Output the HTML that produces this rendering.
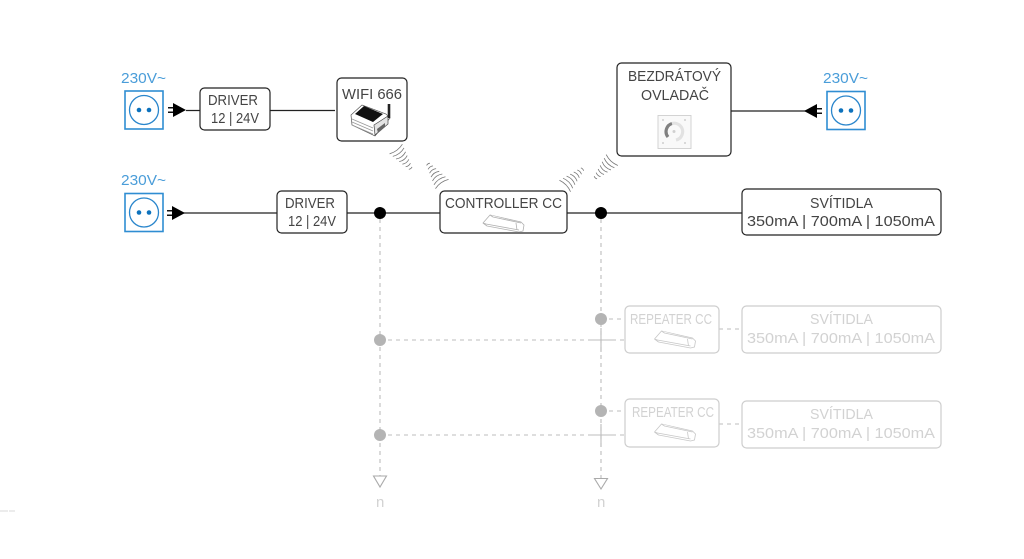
<!DOCTYPE html>
<html><head><meta charset="utf-8"><style>
html,body{margin:0;padding:0;background:#fff}
svg{display:block}
text{font-family:"Liberation Sans",sans-serif;font-size:15px}
.t text{fill:#444}
.b text{fill:#4a9dd9}
.g text{fill:#d2d2d2}
</style></head><body>
<svg width="1024" height="559" viewBox="0 0 1024 559" xmlns="http://www.w3.org/2000/svg">
<defs>
<g id="sock">
<rect x="-19" y="-19" width="38" height="38" fill="#fff" stroke="#2f8dd2" stroke-width="1.6"/>
<circle r="14.5" fill="none" stroke="#2a86cc" stroke-width="1.3"/>
<circle cx="-5" r="2.3" fill="#0d72bd"/><circle cx="5" r="2.3" fill="#0d72bd"/>
</g>
<g id="plug">
<path d="M0,-2.200H7M0,2.200H7" stroke="#111" stroke-width="1.500"/>
<path d="M5,-7L18,0L5,7Z" fill="#000"/>
</g>
<g id="arcs" fill="none" stroke="#777" stroke-width="0.8">
<path d="M0,-8Q3,0 0,8"/><path d="M4,-7Q7,0 4,7"/><path d="M8,-6Q11,0 8,6"/><path d="M12,-5Q14.5,0 12,5"/><path d="M16,-4Q18,0 16,4"/><path d="M20,-3Q21.5,0 20,3"/><path d="M24,-2Q25,0 24,2"/>
</g>
<g id="drv" fill="#fff" stroke="#b0b0b0" stroke-width="0.8" stroke-linejoin="round">
<path d="M0,8L7,0L38,7L41,10L40,16L36,17L4,11Z"/><path d="M0,8L3,9L36,15M7,0L10,2L38,8M33,8L34,15"/>
</g>
</defs>

<!-- grey dashed -->
<g fill="none" stroke="#bdbdbd" stroke-width="1.1" stroke-dasharray="4 4">
<path d="M380,219V476"/>
<path d="M601,219V478"/>
<path d="M380,340H590"/><path d="M380,435H590"/>
<path d="M601,319H625"/><path d="M601,411H625"/>
<path d="M612,340H625"/><path d="M612,435H625"/>
<path d="M719,329H742"/><path d="M719,424H742"/>
</g>
<path d="M589,340H612M601,328V352M588,435H612M601,424V447" stroke="#bdbdbd" stroke-width="1.1" fill="none"/>
<g fill="#b4b4b4"><circle cx="380" cy="340" r="6"/><circle cx="380" cy="435" r="6"/><circle cx="601" cy="319" r="6"/><circle cx="601" cy="411" r="6"/></g>
<path d="M373.500,476H386.500L380,487ZM594.500,478.500H607.500L601,489Z" fill="#fff" stroke="#aaa" stroke-width="1.1"/>

<!-- black lines -->
<g stroke="#222" stroke-width="1.300" fill="none">
<path d="M186,110.500H200M270,110.500H335"/>
<path d="M180,213H277M347,213H440M567,213H742"/>
<path d="M731,111H806"/>
</g>
<circle cx="380" cy="213" r="6" fill="#000"/><circle cx="601" cy="213" r="6" fill="#000"/>

<use href="#sock" x="144" y="110"/><use href="#sock" x="144" y="212.500"/><use href="#sock" x="846" y="110.500"/>
<use href="#plug" x="168" y="110"/><use href="#plug" x="167" y="213"/>
<use href="#plug" transform="translate(822,111) scale(-1,1)"/>

<!-- boxes -->
<g fill="#fff" stroke="#222" stroke-width="1.200">
<rect x="200" y="88" width="70" height="42" rx="4.500"/>
<rect x="337" y="78" width="70" height="63" rx="4.500"/>
<rect x="277" y="191" width="70" height="42" rx="4.500"/>
<rect x="440" y="191" width="127" height="42" rx="4.500"/>
<rect x="617" y="63" width="114" height="93" rx="4.500"/>
<rect x="742" y="189" width="199" height="46" rx="4.500"/>
</g>
<g fill="#fff" stroke="#cdcdcd" stroke-width="1.200">
<rect x="625" y="306" width="94" height="47" rx="4.500"/>
<rect x="742" y="306" width="199" height="47" rx="4.500"/>
<rect x="625" y="399" width="94" height="48" rx="4.500"/>
<rect x="742" y="401" width="199" height="47" rx="4.500"/>
</g>

<!-- wifi arcs -->
<use href="#arcs" transform="translate(396,149) rotate(53)"/>
<use href="#arcs" transform="translate(442,184) rotate(-125)"/>
<use href="#arcs" transform="translate(565,186) rotate(-44)"/>
<use href="#arcs" transform="translate(612,160) rotate(133)"/>

<!-- wifi device -->
<g>
<path d="M351,115L362,105L386,114L390,118L375,136L352,125Z" fill="#fff" stroke="#555" stroke-width="0.7"/>
<path d="M355,114L364,106L383,114L373,122Z" fill="#111"/>
<path d="M352,119L373,128M352,122L373,131M352,125L373,134" stroke="#999" stroke-width="0.8"/>
<path d="M374,125L388,116V124L375,135Z" fill="#e4e4e4" stroke="#444" stroke-width="0.7"/>
<path d="M377,129L385,123V127L378,133Z" fill="#666"/>
<path d="M389,104V118" stroke="#222" stroke-width="2.600"/>
</g>

<!-- dial -->
<rect x="658" y="115.500" width="33" height="33" fill="#f9f9f9" stroke="#cfcfcf" stroke-width="0.900"/>
<path d="M668,137A8.500,8.500 0 0 1 672,123.500" fill="none" stroke="#808080" stroke-width="3.200"/>
<path d="M672,123.500A8.500,8.500 0 0 1 682,135A8.500,8.500 0 0 1 676,140" fill="none" stroke="#e2e2e2" stroke-width="3.200"/>
<circle cx="674" cy="131.500" r="1.500" fill="#d0d0d0"/>
<g fill="#cfcfcf"><circle cx="663" cy="120" r="1"/><circle cx="685" cy="120" r="1"/><circle cx="663" cy="143" r="1"/><circle cx="685" cy="143" r="1"/></g>

<!-- small drivers -->
<use href="#drv" x="483" y="215"/>
<use href="#drv" x="654.500" y="331" opacity="0.7"/>
<use href="#drv" x="654.500" y="424" opacity="0.7"/>

<!-- text -->
<g class="b">
<text x="121" y="83" textLength="45" lengthAdjust="spacingAndGlyphs">230V~</text>
<text x="121" y="185" textLength="45" lengthAdjust="spacingAndGlyphs">230V~</text>
<text x="823" y="83" textLength="45" lengthAdjust="spacingAndGlyphs">230V~</text>
</g>
<g class="t">
<text x="208" y="105" textLength="50" lengthAdjust="spacingAndGlyphs">DRIVER</text>
<text x="211" y="123" textLength="48" lengthAdjust="spacingAndGlyphs">12 | 24V</text>
<text x="342" y="99" textLength="60" lengthAdjust="spacingAndGlyphs">WIFI 666</text>
<text x="285" y="208" textLength="50" lengthAdjust="spacingAndGlyphs">DRIVER</text>
<text x="288" y="226" textLength="48" lengthAdjust="spacingAndGlyphs">12 | 24V</text>
<text x="445" y="208" textLength="117" lengthAdjust="spacingAndGlyphs">CONTROLLER CC</text>
<text x="628" y="81" textLength="93" lengthAdjust="spacingAndGlyphs">BEZDRÁTOVÝ</text>
<text x="641" y="100" textLength="68" lengthAdjust="spacingAndGlyphs">OVLADAČ</text>
<text x="810" y="208" textLength="63" lengthAdjust="spacingAndGlyphs">SVÍTIDLA</text>
<text x="747" y="226" textLength="188" lengthAdjust="spacingAndGlyphs">350mA | 700mA | 1050mA</text>
</g>
<g class="g">
<text x="630" y="324" textLength="82" lengthAdjust="spacingAndGlyphs">REPEATER CC</text>
<text x="632" y="417" textLength="82" lengthAdjust="spacingAndGlyphs">REPEATER CC</text>
<text x="810" y="324" textLength="63" lengthAdjust="spacingAndGlyphs">SVÍTIDLA</text>
<text x="747" y="343" textLength="188" lengthAdjust="spacingAndGlyphs">350mA | 700mA | 1050mA</text>
<text x="810" y="419" textLength="63" lengthAdjust="spacingAndGlyphs">SVÍTIDLA</text>
<text x="747" y="438" textLength="188" lengthAdjust="spacingAndGlyphs">350mA | 700mA | 1050mA</text>
<text x="376" y="507">n</text>
<text x="597" y="507">n</text>
</g>
<path d="M0,511H8M9,511H15" stroke="#d8d8d8" stroke-width="1"/>
</svg>
</body></html>
